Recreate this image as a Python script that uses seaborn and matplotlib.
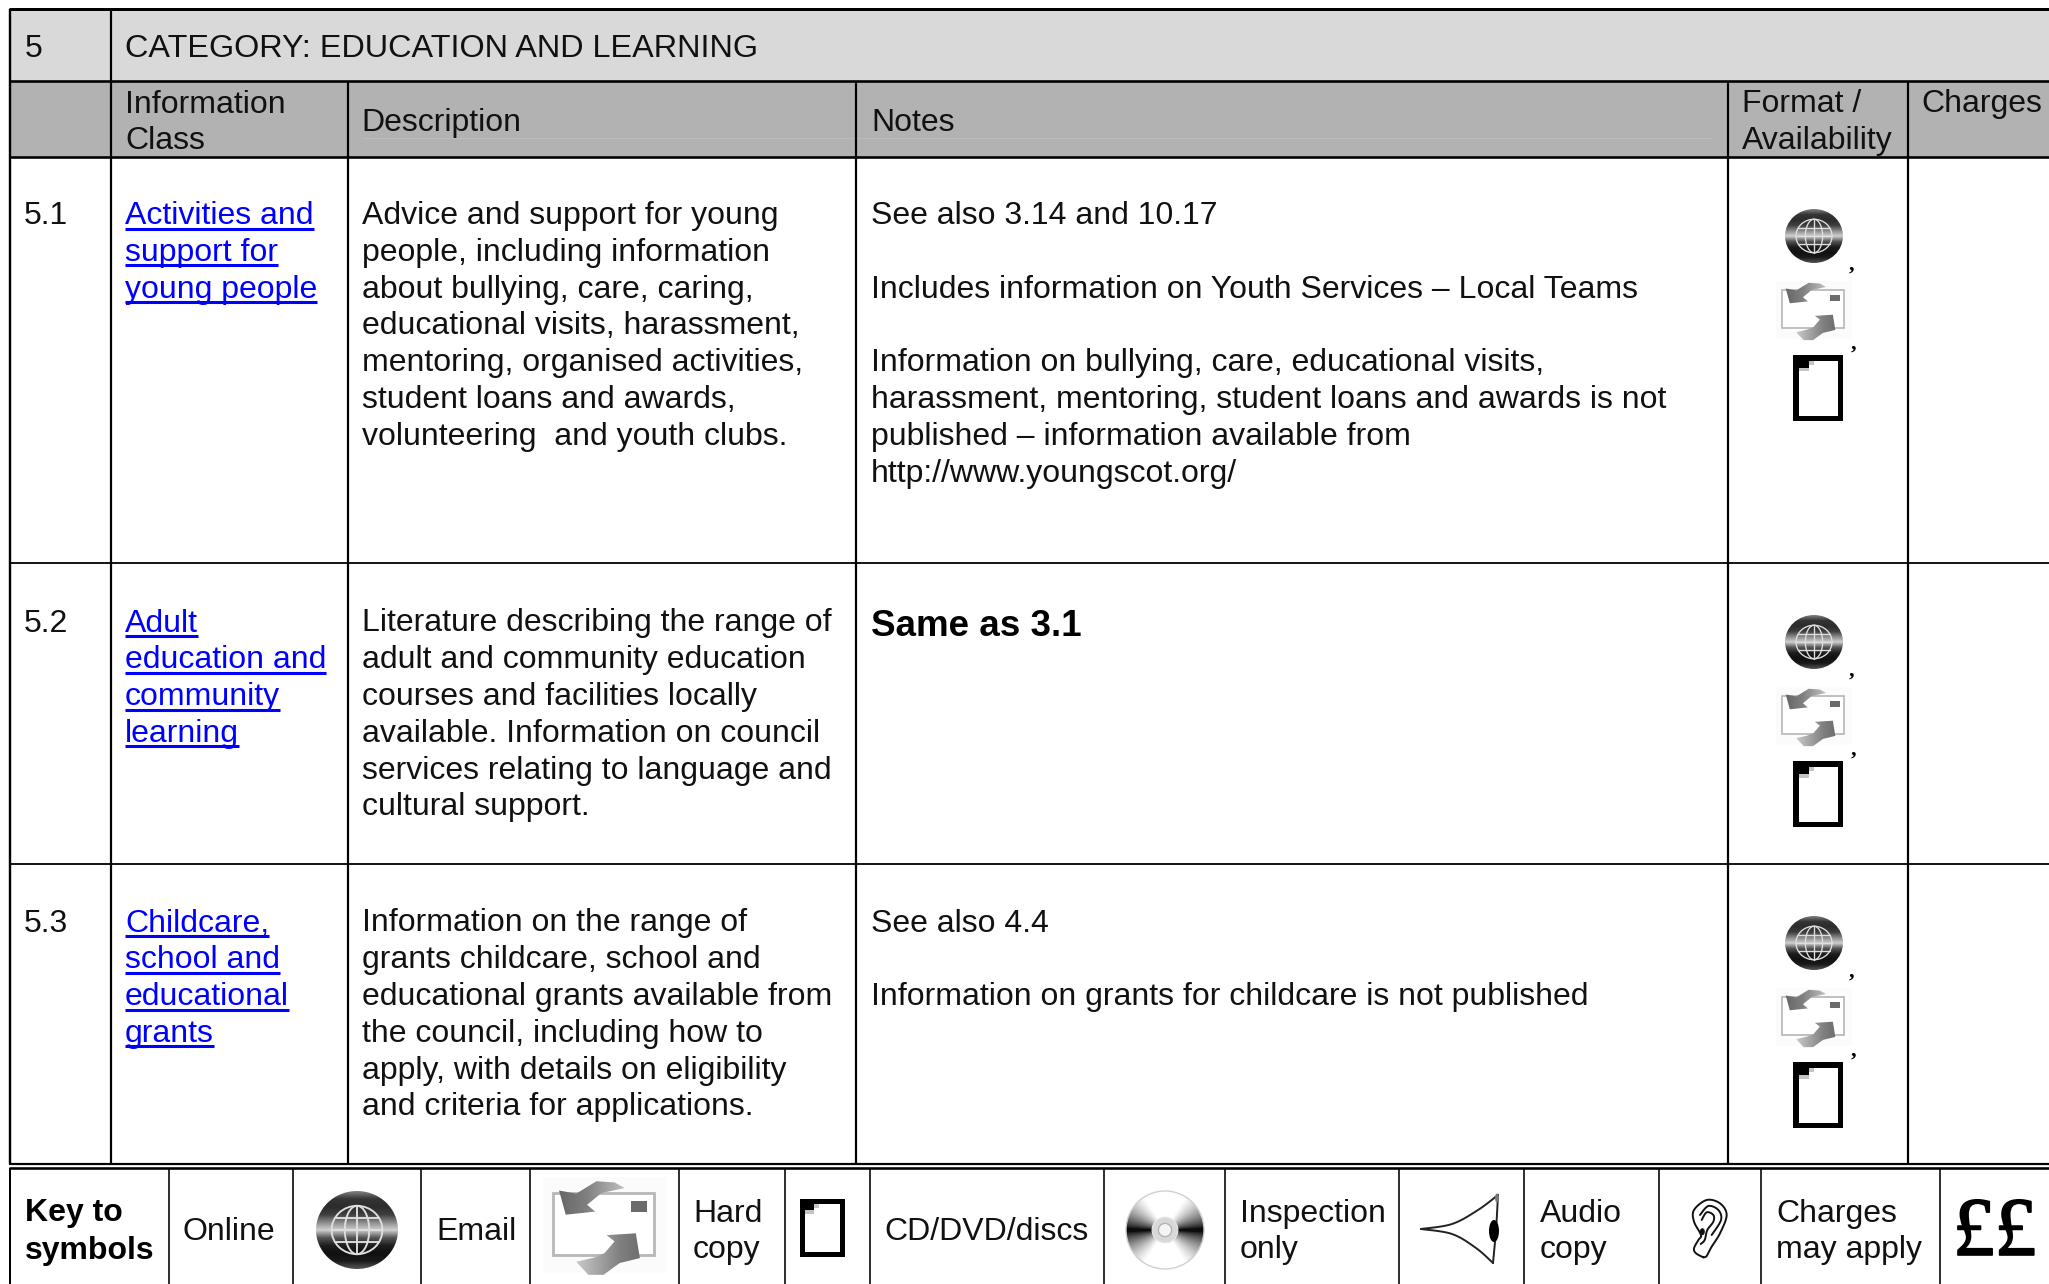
import numpy as np
import matplotlib
matplotlib.use('Agg')
import matplotlib.pyplot as plt
import matplotlib.patheffects as pe
import seaborn as sns
from matplotlib.patches import Ellipse, Rectangle, Polygon

# table contents
category_no = "5"
category_title = "CATEGORY: EDUCATION AND LEARNING"
row_ids = ["5.1", "5.2", "5.3"]
row_classes = [["Activities and", "support for", "young people"],
               ["Adult", "education and", "community", "learning"],
               ["Childcare,", "school and", "educational", "grants"]]
row_descriptions = [["Advice and support for young", "people, including information", "about bullying, care, caring,",
                     "educational visits, harassment,", "mentoring, organised activities,",
                     "student loans and awards,", "volunteering  and youth clubs."],
                    ["Literature describing the range of", "adult and community education",
                     "courses and facilities locally", "available. Information on council",
                     "services relating to language and", "cultural support."],
                    ["Information on the range of", "grants childcare, school and",
                     "educational grants available from", "the council, including how to",
                     "apply, with details on eligibility", "and criteria for applications."]]
row_notes = [["See also 3.14 and 10.17", "", "Includes information on Youth Services \u2013 Local Teams", "",
              "Information on bullying, care, educational visits,",
              "harassment, mentoring, student loans and awards is not",
              "published \u2013 information available from", "http://www.youngscot.org/"],
             [],
             ["See also 4.4", "", "Information on grants for childcare is not published"]]
bold_note = "Same as 3.1"

# layout in reference pixels
W, H = 2049, 1284
col_x = [10, 111, 348, 856, 1728, 1908]
row_y = [9, 81, 157, 563, 864, 1164]
row_base = [224, 631.5, 931.5]
icon_shift = [0, 406, 707]
key_x = [169, 293, 421, 530, 679, 785, 870, 1104, 1225, 1399, 1524, 1659, 1761, 1940]
step = 36.8
FS = 23.05

sns.set_theme(style='white')
plt.rcParams['font.family'] = ['Liberation Sans', 'DejaVu Sans']

fig = plt.figure(figsize=(W / 100, H / 100), dpi=100)
ax = fig.add_axes([0, 0, 1, 1])
ax.set_xlim(0, W)
ax.set_ylim(H, 0)
ax.autoscale(False)
ax.axis('off')

globe_cmap = sns.blend_palette(['#808080', '#343434', '#2c2c2c', '#3e3e3e', '#8a8a8a', '#d0d0d0', '#555555',
                                '#1e1e1e', '#101010', '#1a1a1a', '#555555'], as_cmap=True)
arrow_cmap = sns.blend_palette(['#626262', '#808080', '#b8b8b8', '#ececec'], as_cmap=True)


def put(x, y, s, color='#111111', size=FS, **kw):
    return ax.text(x, y, s, color=color, fontsize=size, va='baseline', ha='left', **kw)


def hline(x0, x1, y, lw=2.0, color='black'):
    ax.plot([x0, x1], [y, y], color=color, lw=lw * 0.72, solid_capstyle='butt')


def vline(x, y0, y1, lw=2.0, color='black'):
    ax.plot([x, x], [y0, y1], color=color, lw=lw * 0.72, solid_capstyle='butt')


def smooth(pts, n=12):
    # catmull-rom through the given outline points
    p = np.array(pts, dtype=float)
    p = np.vstack([p[0], p, p[-1]])
    out = []
    for i in range(1, len(p) - 2):
        for t in np.linspace(0, 1, n, endpoint=False):
            out.append(0.5 * (2 * p[i] + (p[i + 1] - p[i - 1]) * t
                              + (2 * p[i - 1] - 5 * p[i] + 4 * p[i + 1] - p[i + 2]) * t ** 2
                              + (3 * p[i] - p[i - 1] - 3 * p[i + 1] + p[i + 2]) * t ** 3))
    out.append(p[-2])
    return np.array(out)


def globe(cx, cy, rx, ry):
    grad = np.linspace(0, 1, 200).reshape(-1, 1)
    im = ax.imshow(grad, cmap=globe_cmap, extent=[cx - rx, cx + rx, cy + ry, cy - ry], aspect='auto', zorder=2)
    clip = Ellipse((cx, cy), 2 * rx, 2 * ry, transform=ax.transData, fc='none', ec='none')
    ax.add_patch(clip)
    im.set_clip_path(clip)
    gx, gy = rx * 0.62, ry * 0.62
    lw = rx / 30
    for f in [1, 0.48]:
        ax.add_patch(Ellipse((cx, cy), 2 * gx * f, 2 * gy, fc='none', ec='#dedede', lw=lw, zorder=3))
    ax.plot([cx, cx], [cy - gy, cy + gy], color='#dedede', lw=lw, zorder=3)
    for f in [-0.5, 0, 0.5]:
        half = gx * np.sqrt(1 - f ** 2)
        ax.plot([cx - half, cx + half], [cy + f * gy] * 2, color='#dedede', lw=lw, zorder=3)


def envelope(x0, y0, x1, y1, pad):
    w, h = x1 - x0, y1 - y0
    ax.add_patch(Rectangle((x0 - pad * 0.8, y0 - pad * 1.3), w + pad * 1.9, h + pad * 2.8, fc='#fbfbfb', ec='none', zorder=1))
    ax.add_patch(Rectangle((x0, y0), w, h, fc='white', ec='#b8b8b8', lw=w / 50, zorder=2))
    ax.add_patch(Rectangle((x0 + w * 0.77, y0 + h * 0.135), w * 0.16, h * 0.165, fc='#6b6b6b', ec='none', zorder=3))
    top = [(0.06, -0.04), (0.126, 0.35), (0.417, 0.30), (0.338, 0.19), (0.48, 0.0), (0.71, -0.08), (0.61, -0.17), (0.43, -0.19), (0.23, 0.01)]
    bottom = [(0.86, 1.05), (0.82, 0.65), (0.53, 0.68), (0.61, 0.78), (0.51, 0.97), (0.41, 1.04), (0.23, 1.11), (0.35, 1.32), (0.5, 1.32), (0.66, 1.13)]
    for pts, grad in [(top, np.linspace(0, 1, 100).reshape(1, -1)), (bottom, np.linspace(1, 0, 100).reshape(1, -1))]:
        im = ax.imshow(grad, cmap=arrow_cmap, vmin=0, vmax=1, extent=[x0, x1, y0 + 1.4 * h, y0 - 0.3 * h], aspect='auto', zorder=3)
        clip = Polygon([(x0 + a * w, y0 + b * h) for a, b in pts], transform=ax.transData, fc='none', ec='none')
        ax.add_patch(clip)
        im.set_clip_path(clip)


def hard_copy(x0, y0, x1, y1):
    w, h = x1 - x0, y1 - y0
    t = w * 0.11
    ax.add_patch(Rectangle((x0, y0), w, h, fc='black', ec='none', zorder=2))
    ax.add_patch(Rectangle((x0 + t, y0 + t), w - 2 * t, h - 2 * t, fc='white', ec='none', zorder=3))
    ax.add_patch(Rectangle((x0, y0), w * 0.32, h * 0.19, fc='black', ec='none', zorder=4))
    ax.add_patch(Rectangle((x0 + t, y0 + h * 0.19), w * 0.2, h * 0.06, fc='#c4c4c4', ec='none', zorder=4))
    ax.add_patch(Rectangle((x0 + w * 0.32, y0 + t), w * 0.1, h * 0.07, fc='#c4c4c4', ec='none', zorder=4))


def compact_disc(cx, cy, rx, ry):
    xx, yy = np.meshgrid(np.linspace(-1, 1, 240), np.linspace(-1, 1, 240))
    ang = np.arctan2(yy, xx)
    shade = np.clip((np.abs(np.sin(ang)) - 0.05) / 0.8, 0, 1) ** 0.75
    shade = 0.05 + 0.95 * shade
    im = ax.imshow(shade, cmap='gray', vmin=0, vmax=1, extent=[cx - rx, cx + rx, cy + ry, cy - ry], aspect='auto', zorder=2)
    clip = Ellipse((cx, cy), 2 * rx, 2 * ry, transform=ax.transData, fc='none', ec='none')
    ax.add_patch(clip)
    im.set_clip_path(clip)
    ax.add_patch(Ellipse((cx, cy), 2 * rx, 2 * ry, fc='none', ec='#d0d0d0', lw=1.0, zorder=3))
    ax.add_patch(Ellipse((cx, cy), 0.66 * rx, 0.66 * ry, fc='#d8d8d8', ec='#e8e8e8', lw=0.8, zorder=3))
    ax.add_patch(Ellipse((cx, cy), 0.34 * rx, 0.34 * ry, fc='#f4f4f4', ec='#b4b4b4', lw=1.0, zorder=4))


def eye():
    tip, top, bot = (1421, 1229), (1498, 1195), (1493, 1263)
    for pts in [[tip, (1452, 1224), (1478, 1210), top], [tip, (1452, 1234), (1476, 1248), bot], [top, (1496, 1230), bot]]:
        c = smooth(pts)
        ax.plot(c[:, 0], c[:, 1], color='#222222', lw=1.4, zorder=3)
    ax.add_patch(Ellipse((1494, 1231), 10, 22, fc='black', ec='none', zorder=4))
    ax.add_patch(Ellipse((1497, 1198), 4, 9, fc='#777777', ec='none', zorder=4))


def ear():
    outer = [(100, 232), (78, 220), (72, 205), (85, 180), (93, 165), (72, 125), (72, 90), (110, 60), (150, 70), (170, 105), (150, 160), (125, 200), (110, 228), (100, 232)]
    inner = [(90, 105), (115, 78), (145, 90), (153, 120), (125, 165)]
    fold = [(95, 120), (110, 97), (130, 105), (130, 125), (112, 150), (104, 180), (92, 192)]
    for pts in [outer, inner, fold]:
        c = smooth([(1670 + a / 3, 1180 + b / 3) for a, b in pts])
        ax.plot(c[:, 0], c[:, 1], color='#111111', lw=1.4, zorder=3)
    ax.add_patch(Ellipse((1670 + 97 / 3, 1180 + 155 / 3), 5, 7, fc='#111111', ec='none', zorder=4))


# shaded header bands
ax.add_patch(Rectangle((col_x[0], row_y[0]), W - col_x[0], row_y[1] - row_y[0], fc='#d9d9d9', ec='none', zorder=0))
ax.add_patch(Rectangle((col_x[0], row_y[1]), W - col_x[0], row_y[2] - row_y[1], fc='#b2b2b2', ec='none', zorder=0))
hline(362, 1712, 138, lw=1, color='#bcbcbc')

# table rules
for y in row_y[:3]:
    hline(col_x[0] - 1, W, y, lw=3 if y == row_y[0] else 2.6)
for y in row_y[3:5]:
    hline(col_x[0], W, y, lw=1.8)
hline(col_x[0] - 1, W, 1164, lw=2.2)
hline(col_x[0] - 1, W, 1168, lw=2.6)
vline(col_x[0], row_y[0], 1164, lw=2.4)
vline(col_x[0], 1168, H, lw=2.0)
vline(col_x[1], row_y[0], row_y[5], lw=2.2)
for x in col_x[2:]:
    vline(x, row_y[1], row_y[5], lw=2.2)
for x in key_x:
    vline(x, 1168, H, lw=1.6)

# headers
put(25, 57, category_no)
put(125, 57, category_title, size=23.35)
put(125, 113, "Information")
put(125, 149, "Class")
put(361, 131, "Description")
put(871, 131, "Notes")
put(1742, 111.5, "Format /")
put(1742, 148.5, "Availability")
put(1921, 112, "Charges")

# body rows
renderer = fig.canvas.get_renderer()
for i, base in enumerate(row_base):
    put(24, base, row_ids[i])
    for j, line in enumerate(row_classes[i]):
        t = put(125, base + j * step, line, color='#0000ff')
        ext = t.get_window_extent(renderer)
        yu = base + j * step + 4.5
        ax.plot([ext.x0, ext.x1], [yu, yu], color='#0000ff', lw=2.2, solid_capstyle='butt')
    for j, line in enumerate(row_descriptions[i]):
        put(362, base + j * step, line)
    for j, line in enumerate(row_notes[i]):
        put(871, base + j * step, line)
put(871, 636, bold_note, size=26.5, fontweight='bold', color='black')

# format icons per row
for shift in icon_shift:
    globe(1814, 236 + shift, 29, 27)
    put(1849, 270 + shift, ",", size=16, family='Liberation Serif', color='black', fontweight='bold')
    envelope(1782, 290 + shift, 1844, 328 + shift, 7)
    put(1851, 349 + shift, ",", size=16, family='Liberation Serif', color='black', fontweight='bold')
    hard_copy(1793, 355 + shift, 1843, 421 + shift)

# key to symbols
put(25, 1221, "Key to", fontweight='bold', color='black')
put(25, 1259, "symbols", fontweight='bold', color='black')
put(183, 1240, "Online")
globe(357, 1230, 41, 39)
put(436, 1240, "Email")
envelope(553, 1193, 654, 1255, 12)
put(693, 1222, "Hard")
put(693, 1258, "copy")
hard_copy(800, 1199, 845, 1257)
put(884, 1240, "CD/DVD/discs")
compact_disc(1165, 1230, 39, 39)
put(1240, 1222, "Inspection")
put(1240, 1258, "only")
eye()
put(1540, 1222, "Audio")
put(1540, 1258, "copy")
ear()
put(1776, 1222, "Charges")
put(1776, 1258, "may apply")
put(1953, 1255, "\u00a3\u00a3", size=60, family='Liberation Serif', color='black',
    path_effects=[pe.withStroke(linewidth=1.2, foreground='black')])

fig.savefig('out.png', dpi=100, facecolor='white')
